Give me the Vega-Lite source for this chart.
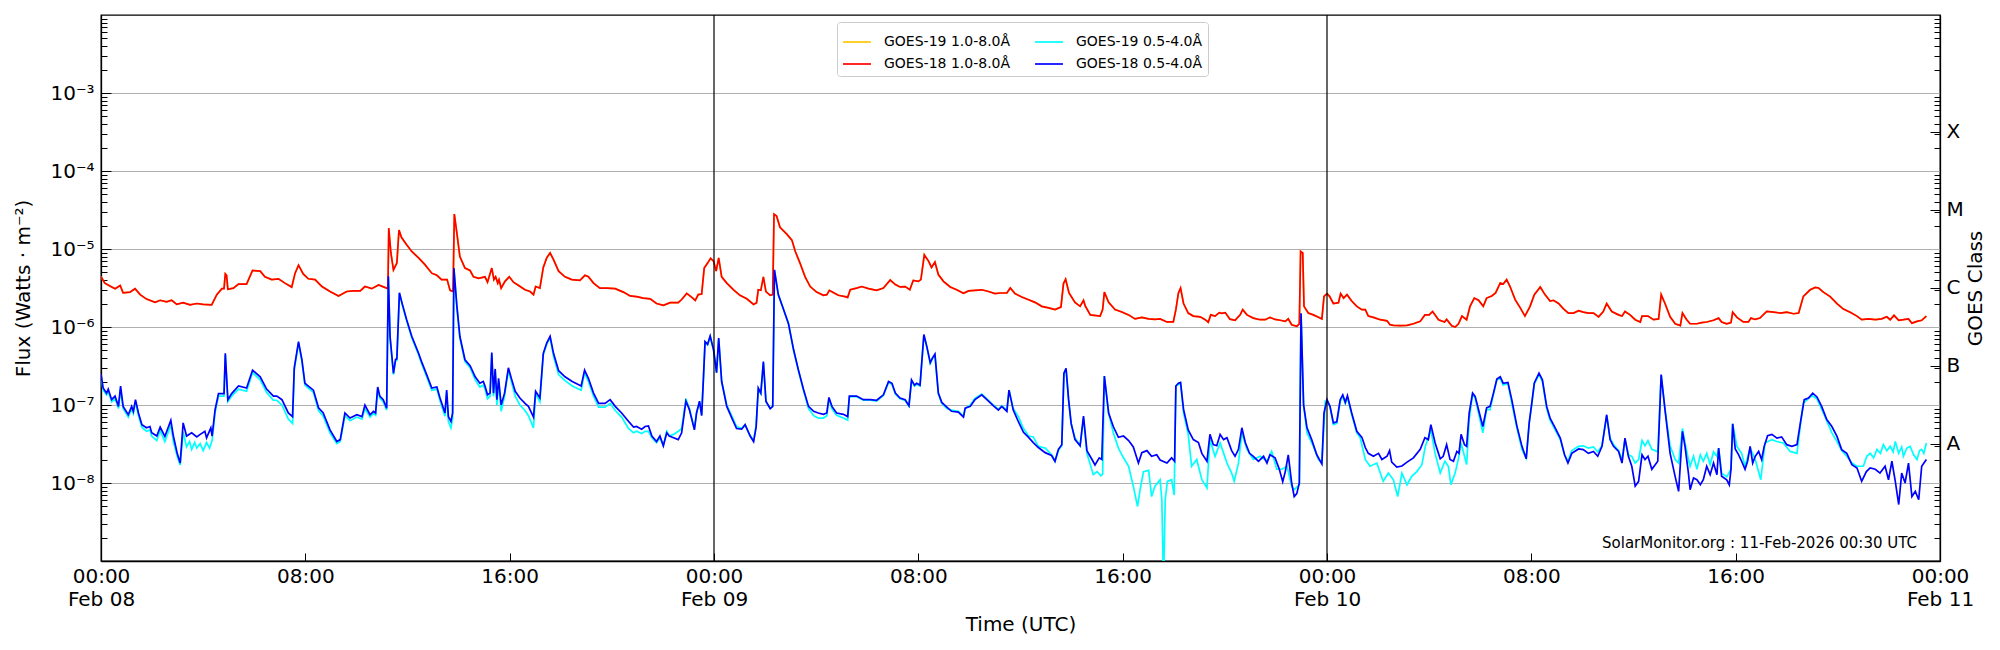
{
"$schema":"https://vega.github.io/schema/vega-lite/v6.json",
"width":1839,"height":546,
"autosize":{"type":"none"},
"padding":{"left":101,"top":15,"right":60,"bottom":89},
"background":"white",
"config":{
"font":"DejaVu Sans",
"view":{"stroke":"black","strokeWidth":1.3},
"axis":{"labelFont":"DejaVu Sans","titleFont":"DejaVu Sans","labelFontSize":20,"titleFontSize":20,"titleFontWeight":"normal","labelColor":"black","titleColor":"black","domainColor":"black","tickColor":"black","domainWidth":1.3,"tickWidth":1},
"line":{"strokeWidth":1.7,"clip":true}
},
"datasets":{
"g18l":[
{"t":"2026-02-08T00:00Z","v":4.4e-6},{"t":"2026-02-08T00:09Z","v":3.65e-6},{"t":"2026-02-08T00:21Z","v":3.35e-6},{"t":"2026-02-08T00:33Z","v":3.1e-6},{"t":"2026-02-08T00:45Z","v":3.4e-6},{"t":"2026-02-08T00:52Z","v":2.75e-6},{"t":"2026-02-08T01:08Z","v":2.8e-6},{"t":"2026-02-08T01:20Z","v":3.1e-6},{"t":"2026-02-08T01:32Z","v":2.6e-6},{"t":"2026-02-08T01:47Z","v":2.28e-6},{"t":"2026-02-08T02:07Z","v":2.07e-6},{"t":"2026-02-08T02:19Z","v":2.2e-6},{"t":"2026-02-08T02:34Z","v":2.1e-6},{"t":"2026-02-08T02:46Z","v":2.2e-6},{"t":"2026-02-08T02:58Z","v":1.95e-6},{"t":"2026-02-08T03:13Z","v":2.05e-6},{"t":"2026-02-08T03:29Z","v":1.92e-6},{"t":"2026-02-08T03:45Z","v":2.0e-6},{"t":"2026-02-08T04:00Z","v":1.95e-6},{"t":"2026-02-08T04:20Z","v":1.92e-6},{"t":"2026-02-08T04:32Z","v":2.6e-6},{"t":"2026-02-08T04:44Z","v":3.1e-6},{"t":"2026-02-08T04:49Z","v":3.1e-6},{"t":"2026-02-08T04:52Z","v":4.8e-6},{"t":"2026-02-08T04:55Z","v":4.6e-6},{"t":"2026-02-08T04:58Z","v":3.05e-6},{"t":"2026-02-08T05:11Z","v":3.15e-6},{"t":"2026-02-08T05:23Z","v":3.55e-6},{"t":"2026-02-08T05:42Z","v":3.55e-6},{"t":"2026-02-08T05:56Z","v":5.3e-6},{"t":"2026-02-08T06:14Z","v":5.2e-6},{"t":"2026-02-08T06:25Z","v":4.4e-6},{"t":"2026-02-08T06:41Z","v":4.05e-6},{"t":"2026-02-08T06:57Z","v":4.15e-6},{"t":"2026-02-08T07:12Z","v":3.65e-6},{"t":"2026-02-08T07:28Z","v":3.25e-6},{"t":"2026-02-08T07:36Z","v":4.9e-6},{"t":"2026-02-08T07:44Z","v":6.2e-6},{"t":"2026-02-08T07:55Z","v":4.8e-6},{"t":"2026-02-08T08:07Z","v":4.15e-6},{"t":"2026-02-08T08:23Z","v":4.05e-6},{"t":"2026-02-08T08:39Z","v":3.3e-6},{"t":"2026-02-08T08:58Z","v":2.85e-6},{"t":"2026-02-08T09:18Z","v":2.5e-6},{"t":"2026-02-08T09:37Z","v":2.85e-6},{"t":"2026-02-08T09:53Z","v":2.9e-6},{"t":"2026-02-08T10:09Z","v":2.9e-6},{"t":"2026-02-08T10:20Z","v":3.3e-6},{"t":"2026-02-08T10:36Z","v":3.1e-6},{"t":"2026-02-08T10:52Z","v":3.45e-6},{"t":"2026-02-08T11:11Z","v":3.15e-6},{"t":"2026-02-08T11:14Z","v":3.1e-6},{"t":"2026-02-08T11:16Z","v":1.85e-5},{"t":"2026-02-08T11:21Z","v":8.9e-6},{"t":"2026-02-08T11:27Z","v":5.4e-6},{"t":"2026-02-08T11:35Z","v":6.6e-6},{"t":"2026-02-08T11:40Z","v":1.75e-5},{"t":"2026-02-08T11:46Z","v":1.4e-5},{"t":"2026-02-08T11:58Z","v":1.13e-5},{"t":"2026-02-08T12:10Z","v":9.3e-6},{"t":"2026-02-08T12:26Z","v":7.7e-6},{"t":"2026-02-08T12:41Z","v":6.3e-6},{"t":"2026-02-08T12:57Z","v":4.9e-6},{"t":"2026-02-08T13:09Z","v":4.6e-6},{"t":"2026-02-08T13:20Z","v":4.05e-6},{"t":"2026-02-08T13:33Z","v":4.05e-6},{"t":"2026-02-08T13:40Z","v":2.95e-6},{"t":"2026-02-08T13:47Z","v":2.85e-6},{"t":"2026-02-08T13:50Z","v":2.8e-5},{"t":"2026-02-08T13:56Z","v":1.6e-5},{"t":"2026-02-08T14:03Z","v":8.0e-6},{"t":"2026-02-08T14:15Z","v":5.7e-6},{"t":"2026-02-08T14:27Z","v":5.3e-6},{"t":"2026-02-08T14:35Z","v":4.4e-6},{"t":"2026-02-08T14:47Z","v":4.2e-6},{"t":"2026-02-08T15:02Z","v":4.4e-6},{"t":"2026-02-08T15:08Z","v":3.75e-6},{"t":"2026-02-08T15:18Z","v":5.7e-6},{"t":"2026-02-08T15:23Z","v":4.05e-6},{"t":"2026-02-08T15:27Z","v":4.4e-6},{"t":"2026-02-08T15:32Z","v":3.65e-6},{"t":"2026-02-08T15:35Z","v":4.05e-6},{"t":"2026-02-08T15:40Z","v":3.15e-6},{"t":"2026-02-08T15:49Z","v":3.85e-6},{"t":"2026-02-08T15:59Z","v":4.4e-6},{"t":"2026-02-08T16:09Z","v":3.75e-6},{"t":"2026-02-08T16:21Z","v":3.4e-6},{"t":"2026-02-08T16:36Z","v":3.0e-6},{"t":"2026-02-08T16:48Z","v":2.85e-6},{"t":"2026-02-08T16:56Z","v":2.6e-6},{"t":"2026-02-08T17:01Z","v":3.3e-6},{"t":"2026-02-08T17:11Z","v":3.15e-6},{"t":"2026-02-08T17:19Z","v":5.8e-6},{"t":"2026-02-08T17:27Z","v":7.7e-6},{"t":"2026-02-08T17:35Z","v":8.9e-6},{"t":"2026-02-08T17:43Z","v":7.3e-6},{"t":"2026-02-08T17:55Z","v":5.2e-6},{"t":"2026-02-08T18:10Z","v":4.4e-6},{"t":"2026-02-08T18:26Z","v":4.05e-6},{"t":"2026-02-08T18:45Z","v":3.95e-6},{"t":"2026-02-08T18:57Z","v":4.6e-6},{"t":"2026-02-08T19:05Z","v":4.4e-6},{"t":"2026-02-08T19:17Z","v":3.65e-6},{"t":"2026-02-08T19:32Z","v":3.15e-6},{"t":"2026-02-08T19:48Z","v":3.15e-6},{"t":"2026-02-08T20:08Z","v":3.1e-6},{"t":"2026-02-08T20:27Z","v":2.8e-6},{"t":"2026-02-08T20:43Z","v":2.5e-6},{"t":"2026-02-08T20:58Z","v":2.45e-6},{"t":"2026-02-08T21:14Z","v":2.35e-6},{"t":"2026-02-08T21:30Z","v":2.3e-6},{"t":"2026-02-08T21:45Z","v":2.0e-6},{"t":"2026-02-08T22:01Z","v":1.9e-6},{"t":"2026-02-08T22:17Z","v":2.05e-6},{"t":"2026-02-08T22:36Z","v":2.05e-6},{"t":"2026-02-08T22:44Z","v":2.25e-6},{"t":"2026-02-08T22:56Z","v":2.7e-6},{"t":"2026-02-08T23:08Z","v":2.4e-6},{"t":"2026-02-08T23:16Z","v":2.2e-6},{"t":"2026-02-08T23:23Z","v":2.6e-6},{"t":"2026-02-08T23:31Z","v":2.65e-6},{"t":"2026-02-08T23:37Z","v":5.7e-6},{"t":"2026-02-08T23:45Z","v":6.6e-6},{"t":"2026-02-08T23:52Z","v":7.6e-6},{"t":"2026-02-08T23:59Z","v":7.0e-6},
{"t":"2026-02-09T00:05Z","v":5.2e-6},{"t":"2026-02-09T00:11Z","v":7.7e-6},{"t":"2026-02-09T00:18Z","v":4.4e-6},{"t":"2026-02-09T00:30Z","v":3.65e-6},{"t":"2026-02-09T00:46Z","v":3.0e-6},{"t":"2026-02-09T01:01Z","v":2.55e-6},{"t":"2026-02-09T01:17Z","v":2.3e-6},{"t":"2026-02-09T01:33Z","v":1.95e-6},{"t":"2026-02-09T01:40Z","v":2.05e-6},{"t":"2026-02-09T01:44Z","v":3.0e-6},{"t":"2026-02-09T01:50Z","v":2.95e-6},{"t":"2026-02-09T01:56Z","v":4.4e-6},{"t":"2026-02-09T02:02Z","v":2.85e-6},{"t":"2026-02-09T02:12Z","v":2.55e-6},{"t":"2026-02-09T02:18Z","v":2.6e-6},{"t":"2026-02-09T02:21Z","v":2.8e-5},{"t":"2026-02-09T02:27Z","v":2.65e-5},{"t":"2026-02-09T02:35Z","v":1.9e-5},{"t":"2026-02-09T02:51Z","v":1.55e-5},{"t":"2026-02-09T03:03Z","v":1.3e-5},{"t":"2026-02-09T03:11Z","v":9.3e-6},{"t":"2026-02-09T03:22Z","v":6.6e-6},{"t":"2026-02-09T03:34Z","v":4.4e-6},{"t":"2026-02-09T03:46Z","v":3.3e-6},{"t":"2026-02-09T04:01Z","v":2.8e-6},{"t":"2026-02-09T04:17Z","v":2.55e-6},{"t":"2026-02-09T04:25Z","v":2.6e-6},{"t":"2026-02-09T04:31Z","v":2.95e-6},{"t":"2026-02-09T04:41Z","v":2.75e-6},{"t":"2026-02-09T04:52Z","v":2.55e-6},{"t":"2026-02-09T05:08Z","v":2.45e-6},{"t":"2026-02-09T05:14Z","v":2.4e-6},{"t":"2026-02-09T05:20Z","v":3.0e-6},{"t":"2026-02-09T05:35Z","v":3.15e-6},{"t":"2026-02-09T05:47Z","v":3.3e-6},{"t":"2026-02-09T06:03Z","v":3.1e-6},{"t":"2026-02-09T06:22Z","v":2.95e-6},{"t":"2026-02-09T06:38Z","v":3.15e-6},{"t":"2026-02-09T06:54Z","v":4.0e-6},{"t":"2026-02-09T07:06Z","v":3.5e-6},{"t":"2026-02-09T07:17Z","v":3.26e-6},{"t":"2026-02-09T07:29Z","v":3.3e-6},{"t":"2026-02-09T07:40Z","v":3.0e-6},{"t":"2026-02-09T07:48Z","v":3.95e-6},{"t":"2026-02-09T08:00Z","v":3.85e-6},{"t":"2026-02-09T08:06Z","v":4.05e-6},{"t":"2026-02-09T08:14Z","v":8.4e-6},{"t":"2026-02-09T08:24Z","v":7.0e-6},{"t":"2026-02-09T08:31Z","v":5.8e-6},{"t":"2026-02-09T08:39Z","v":6.8e-6},{"t":"2026-02-09T08:47Z","v":4.7e-6},{"t":"2026-02-09T08:59Z","v":3.85e-6},{"t":"2026-02-09T09:15Z","v":3.26e-6},{"t":"2026-02-09T09:30Z","v":3.0e-6},{"t":"2026-02-09T09:46Z","v":2.7e-6},{"t":"2026-02-09T09:58Z","v":2.9e-6},{"t":"2026-02-09T10:13Z","v":2.95e-6},{"t":"2026-02-09T10:29Z","v":3.0e-6},{"t":"2026-02-09T10:45Z","v":2.85e-6},{"t":"2026-02-09T11:00Z","v":2.68e-6},{"t":"2026-02-09T11:12Z","v":2.73e-6},{"t":"2026-02-09T11:28Z","v":2.73e-6},{"t":"2026-02-09T11:36Z","v":3.16e-6},{"t":"2026-02-09T11:47Z","v":2.68e-6},{"t":"2026-02-09T12:03Z","v":2.43e-6},{"t":"2026-02-09T12:19Z","v":2.24e-6},{"t":"2026-02-09T12:34Z","v":2.07e-6},{"t":"2026-02-09T12:50Z","v":1.84e-6},{"t":"2026-02-09T13:06Z","v":1.76e-6},{"t":"2026-02-09T13:21Z","v":1.67e-6},{"t":"2026-02-09T13:35Z","v":1.8e-6},{"t":"2026-02-09T13:41Z","v":3.6e-6},{"t":"2026-02-09T13:46Z","v":4.1e-6},{"t":"2026-02-09T13:54Z","v":2.73e-6},{"t":"2026-02-09T14:08Z","v":2.07e-6},{"t":"2026-02-09T14:20Z","v":1.84e-6},{"t":"2026-02-09T14:28Z","v":2.2e-6},{"t":"2026-02-09T14:32Z","v":1.87e-6},{"t":"2026-02-09T14:44Z","v":1.43e-6},{"t":"2026-02-09T15:07Z","v":1.38e-6},{"t":"2026-02-09T15:13Z","v":1.67e-6},{"t":"2026-02-09T15:17Z","v":2.8e-6},{"t":"2026-02-09T15:27Z","v":2.07e-6},{"t":"2026-02-09T15:42Z","v":1.67e-6},{"t":"2026-02-09T15:58Z","v":1.56e-6},{"t":"2026-02-09T16:14Z","v":1.43e-6},{"t":"2026-02-09T16:29Z","v":1.27e-6},{"t":"2026-02-09T16:45Z","v":1.33e-6},{"t":"2026-02-09T17:01Z","v":1.27e-6},{"t":"2026-02-09T17:16Z","v":1.25e-6},{"t":"2026-02-09T17:28Z","v":1.27e-6},{"t":"2026-02-09T17:44Z","v":1.16e-6},{"t":"2026-02-09T17:59Z","v":1.16e-6},{"t":"2026-02-09T18:05Z","v":1.67e-6},{"t":"2026-02-09T18:11Z","v":2.73e-6},{"t":"2026-02-09T18:16Z","v":3.16e-6},{"t":"2026-02-09T18:23Z","v":2.0e-6},{"t":"2026-02-09T18:34Z","v":1.51e-6},{"t":"2026-02-09T18:46Z","v":1.38e-6},{"t":"2026-02-09T19:02Z","v":1.35e-6},{"t":"2026-02-09T19:14Z","v":1.24e-6},{"t":"2026-02-09T19:21Z","v":1.15e-6},{"t":"2026-02-09T19:27Z","v":1.43e-6},{"t":"2026-02-09T19:37Z","v":1.38e-6},{"t":"2026-02-09T19:47Z","v":1.53e-6},{"t":"2026-02-09T19:53Z","v":1.5e-6},{"t":"2026-02-09T20:01Z","v":1.53e-6},{"t":"2026-02-09T20:12Z","v":1.26e-6},{"t":"2026-02-09T20:24Z","v":1.22e-6},{"t":"2026-02-09T20:36Z","v":1.43e-6},{"t":"2026-02-09T20:42Z","v":1.67e-6},{"t":"2026-02-09T20:52Z","v":1.43e-6},{"t":"2026-02-09T21:07Z","v":1.3e-6},{"t":"2026-02-09T21:23Z","v":1.24e-6},{"t":"2026-02-09T21:35Z","v":1.24e-6},{"t":"2026-02-09T21:46Z","v":1.33e-6},{"t":"2026-02-09T21:58Z","v":1.25e-6},{"t":"2026-02-09T22:10Z","v":1.22e-6},{"t":"2026-02-09T22:22Z","v":1.18e-6},{"t":"2026-02-09T22:29Z","v":1.27e-6},{"t":"2026-02-09T22:37Z","v":1.07e-6},{"t":"2026-02-09T22:49Z","v":1.02e-6},{"t":"2026-02-09T22:55Z","v":1.1e-6},{"t":"2026-02-09T22:58Z","v":9.3e-6},{"t":"2026-02-09T23:03Z","v":8.9e-6},{"t":"2026-02-09T23:06Z","v":1.84e-6},{"t":"2026-02-09T23:16Z","v":1.51e-6},{"t":"2026-02-09T23:28Z","v":1.43e-6},{"t":"2026-02-09T23:40Z","v":1.33e-6},{"t":"2026-02-09T23:48Z","v":1.27e-6},{"t":"2026-02-09T23:53Z","v":2.47e-6},
{"t":"2026-02-10T00:00Z","v":2.68e-6},{"t":"2026-02-10T00:06Z","v":2.47e-6},{"t":"2026-02-10T00:15Z","v":2.0e-6},{"t":"2026-02-10T00:27Z","v":2.05e-6},{"t":"2026-02-10T00:32Z","v":2.68e-6},{"t":"2026-02-10T00:39Z","v":2.35e-6},{"t":"2026-02-10T00:47Z","v":2.6e-6},{"t":"2026-02-10T00:58Z","v":2.15e-6},{"t":"2026-02-10T01:10Z","v":1.84e-6},{"t":"2026-02-10T01:22Z","v":1.67e-6},{"t":"2026-02-10T01:30Z","v":1.67e-6},{"t":"2026-02-10T01:37Z","v":1.38e-6},{"t":"2026-02-10T01:49Z","v":1.33e-6},{"t":"2026-02-10T02:05Z","v":1.24e-6},{"t":"2026-02-10T02:21Z","v":1.2e-6},{"t":"2026-02-10T02:28Z","v":1.07e-6},{"t":"2026-02-10T02:36Z","v":1.05e-6},{"t":"2026-02-10T02:52Z","v":1.04e-6},{"t":"2026-02-10T03:08Z","v":1.05e-6},{"t":"2026-02-10T03:23Z","v":1.1e-6},{"t":"2026-02-10T03:39Z","v":1.18e-6},{"t":"2026-02-10T03:50Z","v":1.43e-6},{"t":"2026-02-10T04:00Z","v":1.43e-6},{"t":"2026-02-10T04:08Z","v":1.58e-6},{"t":"2026-02-10T04:22Z","v":1.24e-6},{"t":"2026-02-10T04:36Z","v":1.16e-6},{"t":"2026-02-10T04:41Z","v":1.25e-6},{"t":"2026-02-10T04:53Z","v":1.04e-6},{"t":"2026-02-10T05:01Z","v":1.0e-6},{"t":"2026-02-10T05:09Z","v":1.1e-6},{"t":"2026-02-10T05:17Z","v":1.38e-6},{"t":"2026-02-10T05:28Z","v":1.24e-6},{"t":"2026-02-10T05:36Z","v":1.84e-6},{"t":"2026-02-10T05:46Z","v":2.35e-6},{"t":"2026-02-10T05:56Z","v":2.2e-6},{"t":"2026-02-10T06:07Z","v":1.84e-6},{"t":"2026-02-10T06:15Z","v":2.35e-6},{"t":"2026-02-10T06:27Z","v":2.5e-6},{"t":"2026-02-10T06:36Z","v":2.73e-6},{"t":"2026-02-10T06:47Z","v":3.67e-6},{"t":"2026-02-10T06:54Z","v":3.55e-6},{"t":"2026-02-10T07:02Z","v":4.05e-6},{"t":"2026-02-10T07:10Z","v":3.3e-6},{"t":"2026-02-10T07:22Z","v":2.24e-6},{"t":"2026-02-10T07:34Z","v":1.76e-6},{"t":"2026-02-10T07:45Z","v":1.38e-6},{"t":"2026-02-10T07:57Z","v":1.84e-6},{"t":"2026-02-10T08:07Z","v":2.6e-6},{"t":"2026-02-10T08:21Z","v":3.26e-6},{"t":"2026-02-10T08:32Z","v":2.6e-6},{"t":"2026-02-10T08:44Z","v":2.15e-6},{"t":"2026-02-10T08:52Z","v":2.2e-6},{"t":"2026-02-10T09:04Z","v":2.0e-6},{"t":"2026-02-10T09:15Z","v":1.72e-6},{"t":"2026-02-10T09:27Z","v":1.51e-6},{"t":"2026-02-10T09:39Z","v":1.51e-6},{"t":"2026-02-10T09:51Z","v":1.62e-6},{"t":"2026-02-10T10:02Z","v":1.55e-6},{"t":"2026-02-10T10:14Z","v":1.51e-6},{"t":"2026-02-10T10:26Z","v":1.51e-6},{"t":"2026-02-10T10:38Z","v":1.35e-6},{"t":"2026-02-10T10:49Z","v":1.58e-6},{"t":"2026-02-10T10:57Z","v":2.0e-6},{"t":"2026-02-10T11:09Z","v":1.58e-6},{"t":"2026-02-10T11:25Z","v":1.43e-6},{"t":"2026-02-10T11:33Z","v":1.38e-6},{"t":"2026-02-10T11:40Z","v":1.58e-6},{"t":"2026-02-10T11:52Z","v":1.43e-6},{"t":"2026-02-10T12:04Z","v":1.24e-6},{"t":"2026-02-10T12:16Z","v":1.16e-6},{"t":"2026-02-10T12:20Z","v":1.38e-6},{"t":"2026-02-10T12:34Z","v":1.38e-6},{"t":"2026-02-10T12:47Z","v":1.24e-6},{"t":"2026-02-10T12:59Z","v":1.27e-6},{"t":"2026-02-10T13:05Z","v":2.6e-6},{"t":"2026-02-10T13:14Z","v":2.0e-6},{"t":"2026-02-10T13:26Z","v":1.35e-6},{"t":"2026-02-10T13:38Z","v":1.1e-6},{"t":"2026-02-10T13:50Z","v":1.04e-6},{"t":"2026-02-10T13:55Z","v":1.51e-6},{"t":"2026-02-10T14:05Z","v":1.24e-6},{"t":"2026-02-10T14:13Z","v":1.1e-6},{"t":"2026-02-10T14:29Z","v":1.1e-6},{"t":"2026-02-10T14:40Z","v":1.14e-6},{"t":"2026-02-10T14:52Z","v":1.16e-6},{"t":"2026-02-10T15:08Z","v":1.22e-6},{"t":"2026-02-10T15:20Z","v":1.3e-6},{"t":"2026-02-10T15:27Z","v":1.16e-6},{"t":"2026-02-10T15:39Z","v":1.1e-6},{"t":"2026-02-10T15:49Z","v":1.14e-6},{"t":"2026-02-10T15:53Z","v":1.55e-6},{"t":"2026-02-10T16:03Z","v":1.33e-6},{"t":"2026-02-10T16:18Z","v":1.16e-6},{"t":"2026-02-10T16:30Z","v":1.16e-6},{"t":"2026-02-10T16:36Z","v":1.3e-6},{"t":"2026-02-10T16:46Z","v":1.25e-6},{"t":"2026-02-10T16:57Z","v":1.3e-6},{"t":"2026-02-10T17:13Z","v":1.58e-6},{"t":"2026-02-10T17:29Z","v":1.55e-6},{"t":"2026-02-10T17:45Z","v":1.51e-6},{"t":"2026-02-10T18:00Z","v":1.55e-6},{"t":"2026-02-10T18:16Z","v":1.48e-6},{"t":"2026-02-10T18:28Z","v":1.51e-6},{"t":"2026-02-10T18:39Z","v":2.47e-6},{"t":"2026-02-10T18:55Z","v":3.0e-6},{"t":"2026-02-10T19:07Z","v":3.22e-6},{"t":"2026-02-10T19:15Z","v":3.16e-6},{"t":"2026-02-10T19:26Z","v":2.8e-6},{"t":"2026-02-10T19:42Z","v":2.45e-6},{"t":"2026-02-10T19:58Z","v":2.0e-6},{"t":"2026-02-10T20:13Z","v":1.7e-6},{"t":"2026-02-10T20:29Z","v":1.55e-6},{"t":"2026-02-10T20:45Z","v":1.38e-6},{"t":"2026-02-10T20:56Z","v":1.24e-6},{"t":"2026-02-10T21:12Z","v":1.27e-6},{"t":"2026-02-10T21:28Z","v":1.24e-6},{"t":"2026-02-10T21:43Z","v":1.27e-6},{"t":"2026-02-10T21:55Z","v":1.35e-6},{"t":"2026-02-10T22:03Z","v":1.24e-6},{"t":"2026-02-10T22:12Z","v":1.41e-6},{"t":"2026-02-10T22:23Z","v":1.22e-6},{"t":"2026-02-10T22:34Z","v":1.24e-6},{"t":"2026-02-10T22:46Z","v":1.27e-6},{"t":"2026-02-10T22:54Z","v":1.12e-6},{"t":"2026-02-10T23:06Z","v":1.18e-6},{"t":"2026-02-10T23:17Z","v":1.22e-6},{"t":"2026-02-10T23:28Z","v":1.38e-6}
],
"g18s":[
{"t":"2026-02-08T00:00Z","v":2.5e-7},{"t":"2026-02-08T00:05Z","v":1.65e-7},{"t":"2026-02-08T00:13Z","v":1.42e-7},{"t":"2026-02-08T00:17Z","v":1.6e-7},{"t":"2026-02-08T00:25Z","v":1.17e-7},{"t":"2026-02-08T00:33Z","v":1.3e-7},{"t":"2026-02-08T00:41Z","v":9.6e-8},{"t":"2026-02-08T00:46Z","v":1.75e-7},{"t":"2026-02-08T00:52Z","v":9.6e-8},{"t":"2026-02-08T01:04Z","v":7.5e-8},{"t":"2026-02-08T01:12Z","v":9.6e-8},{"t":"2026-02-08T01:16Z","v":8.3e-8},{"t":"2026-02-08T01:21Z","v":1.17e-7},{"t":"2026-02-08T01:28Z","v":7.9e-8},{"t":"2026-02-08T01:36Z","v":5.6e-8},{"t":"2026-02-08T01:47Z","v":5.1e-8},{"t":"2026-02-08T01:55Z","v":5.3e-8},{"t":"2026-02-08T01:59Z","v":4.4e-8},{"t":"2026-02-08T02:11Z","v":4.0e-8},{"t":"2026-02-08T02:19Z","v":5.2e-8},{"t":"2026-02-08T02:30Z","v":3.95e-8},{"t":"2026-02-08T02:44Z","v":6.35e-8},{"t":"2026-02-08T02:50Z","v":4.0e-8},{"t":"2026-02-08T02:59Z","v":2.4e-8},{"t":"2026-02-08T03:06Z","v":1.8e-8},{"t":"2026-02-08T03:13Z","v":5.9e-8},{"t":"2026-02-08T03:21Z","v":4.0e-8},{"t":"2026-02-08T03:33Z","v":4.4e-8},{"t":"2026-02-08T03:45Z","v":3.9e-8},{"t":"2026-02-08T03:53Z","v":4.2e-8},{"t":"2026-02-08T04:04Z","v":4.6e-8},{"t":"2026-02-08T04:08Z","v":3.8e-8},{"t":"2026-02-08T04:18Z","v":5.1e-8},{"t":"2026-02-08T04:21Z","v":4.0e-8},{"t":"2026-02-08T04:28Z","v":8.7e-8},{"t":"2026-02-08T04:36Z","v":1.4e-7},{"t":"2026-02-08T04:49Z","v":1.4e-7},{"t":"2026-02-08T04:52Z","v":4.6e-7},{"t":"2026-02-08T04:58Z","v":1.17e-7},{"t":"2026-02-08T05:07Z","v":1.4e-7},{"t":"2026-02-08T05:23Z","v":1.75e-7},{"t":"2026-02-08T05:42Z","v":1.65e-7},{"t":"2026-02-08T05:56Z","v":2.8e-7},{"t":"2026-02-08T06:14Z","v":2.3e-7},{"t":"2026-02-08T06:29Z","v":1.6e-7},{"t":"2026-02-08T06:45Z","v":1.3e-7},{"t":"2026-02-08T06:53Z","v":1.3e-7},{"t":"2026-02-08T07:05Z","v":1.17e-7},{"t":"2026-02-08T07:20Z","v":7.9e-8},{"t":"2026-02-08T07:30Z","v":7.1e-8},{"t":"2026-02-08T07:34Z","v":3.0e-7},{"t":"2026-02-08T07:44Z","v":6.5e-7},{"t":"2026-02-08T07:52Z","v":3.8e-7},{"t":"2026-02-08T07:59Z","v":1.9e-7},{"t":"2026-02-08T08:07Z","v":1.75e-7},{"t":"2026-02-08T08:19Z","v":1.55e-7},{"t":"2026-02-08T08:31Z","v":9.2e-8},{"t":"2026-02-08T08:42Z","v":7.9e-8},{"t":"2026-02-08T08:58Z","v":4.8e-8},{"t":"2026-02-08T09:14Z","v":3.4e-8},{"t":"2026-02-08T09:22Z","v":3.6e-8},{"t":"2026-02-08T09:33Z","v":7.9e-8},{"t":"2026-02-08T09:45Z","v":6.8e-8},{"t":"2026-02-08T10:01Z","v":7.5e-8},{"t":"2026-02-08T10:13Z","v":7.1e-8},{"t":"2026-02-08T10:20Z","v":1.0e-7},{"t":"2026-02-08T10:32Z","v":7.5e-8},{"t":"2026-02-08T10:40Z","v":8.3e-8},{"t":"2026-02-08T10:45Z","v":7.9e-8},{"t":"2026-02-08T10:50Z","v":1.7e-7},{"t":"2026-02-08T10:55Z","v":1.3e-7},{"t":"2026-02-08T11:03Z","v":1.17e-7},{"t":"2026-02-08T11:11Z","v":9.1e-8},{"t":"2026-02-08T11:15Z","v":4.47e-6},{"t":"2026-02-08T11:19Z","v":7.6e-7},{"t":"2026-02-08T11:27Z","v":2.55e-7},{"t":"2026-02-08T11:32Z","v":3.85e-7},{"t":"2026-02-08T11:35Z","v":3.9e-7},{"t":"2026-02-08T11:41Z","v":2.75e-6},{"t":"2026-02-08T11:48Z","v":1.95e-6},{"t":"2026-02-08T11:58Z","v":1.24e-6},{"t":"2026-02-08T12:10Z","v":7.6e-7},{"t":"2026-02-08T12:26Z","v":4.6e-7},{"t":"2026-02-08T12:33Z","v":3.6e-7},{"t":"2026-02-08T12:45Z","v":2.45e-7},{"t":"2026-02-08T12:57Z","v":1.65e-7},{"t":"2026-02-08T13:09Z","v":1.7e-7},{"t":"2026-02-08T13:16Z","v":1.25e-7},{"t":"2026-02-08T13:28Z","v":7.9e-8},{"t":"2026-02-08T13:32Z","v":1.55e-7},{"t":"2026-02-08T13:36Z","v":7.1e-8},{"t":"2026-02-08T13:42Z","v":6.15e-8},{"t":"2026-02-08T13:46Z","v":7.9e-8},{"t":"2026-02-08T13:49Z","v":5.7e-6},{"t":"2026-02-08T13:56Z","v":1.85e-6},{"t":"2026-02-08T14:03Z","v":7.6e-7},{"t":"2026-02-08T14:15Z","v":3.8e-7},{"t":"2026-02-08T14:27Z","v":3.2e-7},{"t":"2026-02-08T14:39Z","v":2.3e-7},{"t":"2026-02-08T14:50Z","v":1.9e-7},{"t":"2026-02-08T14:58Z","v":2.0e-7},{"t":"2026-02-08T15:02Z","v":1.75e-7},{"t":"2026-02-08T15:08Z","v":1.35e-7},{"t":"2026-02-08T15:14Z","v":1.42e-7},{"t":"2026-02-08T15:18Z","v":4.7e-7},{"t":"2026-02-08T15:22Z","v":1.42e-7},{"t":"2026-02-08T15:26Z","v":2.9e-7},{"t":"2026-02-08T15:30Z","v":1.17e-7},{"t":"2026-02-08T15:34Z","v":2.2e-7},{"t":"2026-02-08T15:40Z","v":1.0e-7},{"t":"2026-02-08T15:48Z","v":1.42e-7},{"t":"2026-02-08T15:57Z","v":3.0e-7},{"t":"2026-02-08T16:05Z","v":2.1e-7},{"t":"2026-02-08T16:13Z","v":1.5e-7},{"t":"2026-02-08T16:24Z","v":1.23e-7},{"t":"2026-02-08T16:36Z","v":1.05e-7},{"t":"2026-02-08T16:44Z","v":9.6e-8},{"t":"2026-02-08T16:56Z","v":7.0e-8},{"t":"2026-02-08T17:01Z","v":1.5e-7},{"t":"2026-02-08T17:11Z","v":1.23e-7},{"t":"2026-02-08T17:19Z","v":4.6e-7},{"t":"2026-02-08T17:27Z","v":6.2e-7},{"t":"2026-02-08T17:35Z","v":7.6e-7},{"t":"2026-02-08T17:43Z","v":4.6e-7},{"t":"2026-02-08T17:55Z","v":2.75e-7},{"t":"2026-02-08T18:10Z","v":2.3e-7},{"t":"2026-02-08T18:27Z","v":2.0e-7},{"t":"2026-02-08T18:48Z","v":1.75e-7},{"t":"2026-02-08T18:56Z","v":2.8e-7},{"t":"2026-02-08T19:05Z","v":2.2e-7},{"t":"2026-02-08T19:17Z","v":1.42e-7},{"t":"2026-02-08T19:29Z","v":1.05e-7},{"t":"2026-02-08T19:44Z","v":1.05e-7},{"t":"2026-02-08T19:56Z","v":1.17e-7},{"t":"2026-02-08T20:08Z","v":9.6e-8},{"t":"2026-02-08T20:23Z","v":7.9e-8},{"t":"2026-02-08T20:39Z","v":6.2e-8},{"t":"2026-02-08T20:51Z","v":5.2e-8},{"t":"2026-02-08T20:58Z","v":5.3e-8},{"t":"2026-02-08T21:10Z","v":4.9e-8},{"t":"2026-02-08T21:18Z","v":5.3e-8},{"t":"2026-02-08T21:26Z","v":5.4e-8},{"t":"2026-02-08T21:34Z","v":4.0e-8},{"t":"2026-02-08T21:45Z","v":3.4e-8},{"t":"2026-02-08T21:53Z","v":4.0e-8},{"t":"2026-02-08T22:01Z","v":3.0e-8},{"t":"2026-02-08T22:09Z","v":4.4e-8},{"t":"2026-02-08T22:15Z","v":4.0e-8},{"t":"2026-02-08T22:25Z","v":3.8e-8},{"t":"2026-02-08T22:36Z","v":3.6e-8},{"t":"2026-02-08T22:44Z","v":4.4e-8},{"t":"2026-02-08T22:54Z","v":1.12e-7},{"t":"2026-02-08T23:02Z","v":8.8e-8},{"t":"2026-02-08T23:14Z","v":4.8e-8},{"t":"2026-02-08T23:19Z","v":7.9e-8},{"t":"2026-02-08T23:26Z","v":1.12e-7},{"t":"2026-02-08T23:31Z","v":7.3e-8},{"t":"2026-02-08T23:35Z","v":2.1e-7},{"t":"2026-02-08T23:39Z","v":6.5e-7},{"t":"2026-02-08T23:45Z","v":6.0e-7},{"t":"2026-02-08T23:51Z","v":7.7e-7},{"t":"2026-02-08T23:59Z","v":5.1e-7},
{"t":"2026-02-09T00:06Z","v":2.6e-7},{"t":"2026-02-09T00:11Z","v":7.2e-7},{"t":"2026-02-09T00:18Z","v":2.0e-7},{"t":"2026-02-09T00:30Z","v":9.6e-8},{"t":"2026-02-09T00:42Z","v":6.8e-8},{"t":"2026-02-09T00:53Z","v":5.0e-8},{"t":"2026-02-09T01:05Z","v":4.9e-8},{"t":"2026-02-09T01:13Z","v":5.6e-8},{"t":"2026-02-09T01:25Z","v":4.0e-8},{"t":"2026-02-09T01:33Z","v":3.4e-8},{"t":"2026-02-09T01:39Z","v":5.2e-8},{"t":"2026-02-09T01:44Z","v":1.65e-7},{"t":"2026-02-09T01:50Z","v":1.42e-7},{"t":"2026-02-09T01:56Z","v":3.6e-7},{"t":"2026-02-09T02:02Z","v":1.12e-7},{"t":"2026-02-09T02:12Z","v":9.0e-8},{"t":"2026-02-09T02:18Z","v":9.6e-8},{"t":"2026-02-09T02:22Z","v":5.4e-6},{"t":"2026-02-09T02:31Z","v":2.6e-6},{"t":"2026-02-09T02:43Z","v":1.7e-6},{"t":"2026-02-09T02:55Z","v":1.1e-6},{"t":"2026-02-09T03:07Z","v":5.1e-7},{"t":"2026-02-09T03:18Z","v":2.85e-7},{"t":"2026-02-09T03:30Z","v":1.6e-7},{"t":"2026-02-09T03:42Z","v":9.6e-8},{"t":"2026-02-09T03:54Z","v":8.3e-8},{"t":"2026-02-09T04:05Z","v":7.9e-8},{"t":"2026-02-09T04:17Z","v":7.6e-8},{"t":"2026-02-09T04:25Z","v":7.9e-8},{"t":"2026-02-09T04:30Z","v":1.25e-7},{"t":"2026-02-09T04:37Z","v":9.6e-8},{"t":"2026-02-09T04:48Z","v":7.9e-8},{"t":"2026-02-09T05:04Z","v":7.6e-8},{"t":"2026-02-09T05:14Z","v":7.1e-8},{"t":"2026-02-09T05:18Z","v":1.3e-7},{"t":"2026-02-09T05:35Z","v":1.3e-7},{"t":"2026-02-09T05:51Z","v":1.17e-7},{"t":"2026-02-09T06:07Z","v":1.17e-7},{"t":"2026-02-09T06:22Z","v":1.15e-7},{"t":"2026-02-09T06:38Z","v":1.35e-7},{"t":"2026-02-09T06:50Z","v":2.0e-7},{"t":"2026-02-09T06:58Z","v":1.9e-7},{"t":"2026-02-09T07:06Z","v":1.42e-7},{"t":"2026-02-09T07:17Z","v":1.23e-7},{"t":"2026-02-09T07:29Z","v":1.17e-7},{"t":"2026-02-09T07:38Z","v":9.8e-8},{"t":"2026-02-09T07:44Z","v":2.1e-7},{"t":"2026-02-09T07:51Z","v":1.8e-7},{"t":"2026-02-09T07:56Z","v":1.9e-7},{"t":"2026-02-09T08:04Z","v":1.8e-7},{"t":"2026-02-09T08:13Z","v":8.0e-7},{"t":"2026-02-09T08:20Z","v":5.6e-7},{"t":"2026-02-09T08:28Z","v":3.5e-7},{"t":"2026-02-09T08:33Z","v":4.0e-7},{"t":"2026-02-09T08:39Z","v":4.5e-7},{"t":"2026-02-09T08:47Z","v":1.42e-7},{"t":"2026-02-09T08:55Z","v":1.08e-7},{"t":"2026-02-09T09:07Z","v":9.4e-8},{"t":"2026-02-09T09:18Z","v":8.3e-8},{"t":"2026-02-09T09:34Z","v":8.1e-8},{"t":"2026-02-09T09:46Z","v":7.0e-8},{"t":"2026-02-09T09:50Z","v":9.1e-8},{"t":"2026-02-09T10:02Z","v":9.6e-8},{"t":"2026-02-09T10:13Z","v":1.17e-7},{"t":"2026-02-09T10:29Z","v":1.35e-7},{"t":"2026-02-09T10:41Z","v":1.17e-7},{"t":"2026-02-09T10:56Z","v":9.8e-8},{"t":"2026-02-09T11:08Z","v":8.6e-8},{"t":"2026-02-09T11:16Z","v":9.6e-8},{"t":"2026-02-09T11:28Z","v":8.3e-8},{"t":"2026-02-09T11:33Z","v":1.55e-7},{"t":"2026-02-09T11:43Z","v":8.6e-8},{"t":"2026-02-09T11:55Z","v":6.1e-8},{"t":"2026-02-09T12:07Z","v":4.47e-8},{"t":"2026-02-09T12:19Z","v":3.85e-8},{"t":"2026-02-09T12:30Z","v":3.3e-8},{"t":"2026-02-09T12:42Z","v":2.85e-8},{"t":"2026-02-09T12:58Z","v":2.45e-8},{"t":"2026-02-09T13:13Z","v":2.25e-8},{"t":"2026-02-09T13:21Z","v":1.9e-8},{"t":"2026-02-09T13:29Z","v":2.7e-8},{"t":"2026-02-09T13:37Z","v":3.1e-8},{"t":"2026-02-09T13:42Z","v":2.56e-7},{"t":"2026-02-09T13:47Z","v":2.96e-7},{"t":"2026-02-09T13:53Z","v":1.17e-7},{"t":"2026-02-09T13:59Z","v":5.8e-8},{"t":"2026-02-09T14:08Z","v":3.6e-8},{"t":"2026-02-09T14:20Z","v":3.0e-8},{"t":"2026-02-09T14:28Z","v":7.2e-8},{"t":"2026-02-09T14:36Z","v":2.6e-8},{"t":"2026-02-09T14:48Z","v":2.0e-8},{"t":"2026-02-09T14:55Z","v":1.7e-8},{"t":"2026-02-09T15:05Z","v":2.1e-8},{"t":"2026-02-09T15:11Z","v":2.0e-8},{"t":"2026-02-09T15:17Z","v":2.35e-7},{"t":"2026-02-09T15:27Z","v":7.9e-8},{"t":"2026-02-09T15:38Z","v":5.3e-8},{"t":"2026-02-09T15:50Z","v":3.85e-8},{"t":"2026-02-09T16:02Z","v":4.0e-8},{"t":"2026-02-09T16:14Z","v":3.5e-8},{"t":"2026-02-09T16:25Z","v":2.9e-8},{"t":"2026-02-09T16:37Z","v":1.8e-8},{"t":"2026-02-09T16:45Z","v":2.45e-8},{"t":"2026-02-09T16:57Z","v":2.6e-8},{"t":"2026-02-09T17:08Z","v":2.2e-8},{"t":"2026-02-09T17:20Z","v":2.3e-8},{"t":"2026-02-09T17:28Z","v":1.97e-8},{"t":"2026-02-09T17:44Z","v":1.8e-8},{"t":"2026-02-09T17:55Z","v":2.1e-8},{"t":"2026-02-09T18:02Z","v":1.9e-8},{"t":"2026-02-09T18:05Z","v":1.75e-7},{"t":"2026-02-09T18:11Z","v":1.9e-7},{"t":"2026-02-09T18:16Z","v":1.95e-7},{"t":"2026-02-09T18:23Z","v":8.8e-8},{"t":"2026-02-09T18:34Z","v":4.8e-8},{"t":"2026-02-09T18:46Z","v":3.6e-8},{"t":"2026-02-09T18:58Z","v":3.3e-8},{"t":"2026-02-09T19:06Z","v":2.4e-8},{"t":"2026-02-09T19:18Z","v":1.9e-8},{"t":"2026-02-09T19:25Z","v":4.2e-8},{"t":"2026-02-09T19:33Z","v":3.1e-8},{"t":"2026-02-09T19:41Z","v":3.0e-8},{"t":"2026-02-09T19:49Z","v":4.2e-8},{"t":"2026-02-09T19:57Z","v":3.6e-8},{"t":"2026-02-09T20:05Z","v":3.8e-8},{"t":"2026-02-09T20:16Z","v":2.6e-8},{"t":"2026-02-09T20:24Z","v":2.2e-8},{"t":"2026-02-09T20:32Z","v":2.7e-8},{"t":"2026-02-09T20:40Z","v":5.1e-8},{"t":"2026-02-09T20:48Z","v":3.3e-8},{"t":"2026-02-09T20:58Z","v":2.4e-8},{"t":"2026-02-09T21:07Z","v":2.2e-8},{"t":"2026-02-09T21:19Z","v":1.9e-8},{"t":"2026-02-09T21:31Z","v":2.2e-8},{"t":"2026-02-09T21:39Z","v":1.8e-8},{"t":"2026-02-09T21:46Z","v":2.3e-8},{"t":"2026-02-09T21:58Z","v":2.1e-8},{"t":"2026-02-09T22:08Z","v":1.5e-8},{"t":"2026-02-09T22:16Z","v":1.04e-8},{"t":"2026-02-09T22:22Z","v":1.4e-8},{"t":"2026-02-09T22:29Z","v":2.3e-8},{"t":"2026-02-09T22:37Z","v":1.0e-8},{"t":"2026-02-09T22:43Z","v":6.7e-9},{"t":"2026-02-09T22:49Z","v":7.3e-9},{"t":"2026-02-09T22:55Z","v":1.0e-8},{"t":"2026-02-09T22:59Z","v":1.5e-6},{"t":"2026-02-09T23:05Z","v":1.0e-7},{"t":"2026-02-09T23:13Z","v":5.1e-8},{"t":"2026-02-09T23:24Z","v":3.6e-8},{"t":"2026-02-09T23:36Z","v":2.3e-8},{"t":"2026-02-09T23:48Z","v":1.75e-8},{"t":"2026-02-09T23:53Z","v":7.9e-8},
{"t":"2026-02-10T00:00Z","v":1.17e-7},{"t":"2026-02-10T00:07Z","v":9.6e-8},{"t":"2026-02-10T00:15Z","v":5.9e-8},{"t":"2026-02-10T00:23Z","v":6.1e-8},{"t":"2026-02-10T00:31Z","v":1.17e-7},{"t":"2026-02-10T00:37Z","v":1.35e-7},{"t":"2026-02-10T00:43Z","v":1.08e-7},{"t":"2026-02-10T00:48Z","v":1.32e-7},{"t":"2026-02-10T00:58Z","v":7.9e-8},{"t":"2026-02-10T01:10Z","v":4.6e-8},{"t":"2026-02-10T01:22Z","v":3.85e-8},{"t":"2026-02-10T01:30Z","v":2.85e-8},{"t":"2026-02-10T01:37Z","v":2.4e-8},{"t":"2026-02-10T01:49Z","v":2.2e-8},{"t":"2026-02-10T02:01Z","v":2.4e-8},{"t":"2026-02-10T02:09Z","v":2.0e-8},{"t":"2026-02-10T02:21Z","v":2.2e-8},{"t":"2026-02-10T02:27Z","v":2.6e-8},{"t":"2026-02-10T02:32Z","v":1.85e-8},{"t":"2026-02-10T02:44Z","v":1.6e-8},{"t":"2026-02-10T02:56Z","v":1.65e-8},{"t":"2026-02-10T03:08Z","v":1.85e-8},{"t":"2026-02-10T03:23Z","v":2.1e-8},{"t":"2026-02-10T03:39Z","v":2.7e-8},{"t":"2026-02-10T03:50Z","v":3.8e-8},{"t":"2026-02-10T03:58Z","v":3.6e-8},{"t":"2026-02-10T04:04Z","v":5.6e-8},{"t":"2026-02-10T04:14Z","v":3.26e-8},{"t":"2026-02-10T04:26Z","v":2.04e-8},{"t":"2026-02-10T04:33Z","v":2.2e-8},{"t":"2026-02-10T04:41Z","v":3.1e-8},{"t":"2026-02-10T04:49Z","v":2.0e-8},{"t":"2026-02-10T04:57Z","v":1.9e-8},{"t":"2026-02-10T05:05Z","v":2.54e-8},{"t":"2026-02-10T05:10Z","v":2.4e-8},{"t":"2026-02-10T05:15Z","v":4.2e-8},{"t":"2026-02-10T05:23Z","v":3.1e-8},{"t":"2026-02-10T05:28Z","v":2.95e-8},{"t":"2026-02-10T05:34Z","v":7.9e-8},{"t":"2026-02-10T05:42Z","v":1.42e-7},{"t":"2026-02-10T05:48Z","v":1.29e-7},{"t":"2026-02-10T05:56Z","v":8.7e-8},{"t":"2026-02-10T06:06Z","v":5.3e-8},{"t":"2026-02-10T06:15Z","v":9.2e-8},{"t":"2026-02-10T06:23Z","v":9.6e-8},{"t":"2026-02-10T06:31Z","v":1.42e-7},{"t":"2026-02-10T06:39Z","v":2.15e-7},{"t":"2026-02-10T06:47Z","v":2.3e-7},{"t":"2026-02-10T06:54Z","v":1.9e-7},{"t":"2026-02-10T07:05Z","v":1.95e-7},{"t":"2026-02-10T07:14Z","v":1.17e-7},{"t":"2026-02-10T07:26Z","v":5.4e-8},{"t":"2026-02-10T07:38Z","v":2.95e-8},{"t":"2026-02-10T07:48Z","v":2.04e-8},{"t":"2026-02-10T07:55Z","v":5.9e-8},{"t":"2026-02-10T08:01Z","v":1.06e-7},{"t":"2026-02-10T08:07Z","v":1.92e-7},{"t":"2026-02-10T08:18Z","v":2.56e-7},{"t":"2026-02-10T08:26Z","v":2.1e-7},{"t":"2026-02-10T08:36Z","v":9.6e-8},{"t":"2026-02-10T08:44Z","v":6.8e-8},{"t":"2026-02-10T08:56Z","v":5.1e-8},{"t":"2026-02-10T09:08Z","v":3.76e-8},{"t":"2026-02-10T09:18Z","v":2.3e-8},{"t":"2026-02-10T09:26Z","v":1.8e-8},{"t":"2026-02-10T09:35Z","v":2.4e-8},{"t":"2026-02-10T09:51Z","v":2.73e-8},{"t":"2026-02-10T10:02Z","v":2.68e-8},{"t":"2026-02-10T10:14Z","v":2.4e-8},{"t":"2026-02-10T10:26Z","v":2.54e-8},{"t":"2026-02-10T10:36Z","v":2.2e-8},{"t":"2026-02-10T10:46Z","v":2.95e-8},{"t":"2026-02-10T10:57Z","v":7.5e-8},{"t":"2026-02-10T11:05Z","v":3.6e-8},{"t":"2026-02-10T11:13Z","v":2.95e-8},{"t":"2026-02-10T11:25Z","v":2.54e-8},{"t":"2026-02-10T11:33Z","v":1.8e-8},{"t":"2026-02-10T11:40Z","v":3.76e-8},{"t":"2026-02-10T11:48Z","v":2.2e-8},{"t":"2026-02-10T11:56Z","v":1.64e-8},{"t":"2026-02-10T12:04Z","v":9.1e-9},{"t":"2026-02-10T12:12Z","v":1.05e-8},{"t":"2026-02-10T12:20Z","v":2.3e-8},{"t":"2026-02-10T12:27Z","v":2.0e-8},{"t":"2026-02-10T12:34Z","v":2.2e-8},{"t":"2026-02-10T12:43Z","v":1.5e-8},{"t":"2026-02-10T12:51Z","v":1.72e-8},{"t":"2026-02-10T12:57Z","v":1.9e-8},{"t":"2026-02-10T13:05Z","v":2.45e-7},{"t":"2026-02-10T13:14Z","v":8.7e-8},{"t":"2026-02-10T13:26Z","v":2.4e-8},{"t":"2026-02-10T13:38Z","v":1.2e-8},{"t":"2026-02-10T13:46Z","v":7.8e-9},{"t":"2026-02-10T13:55Z","v":4.6e-8},{"t":"2026-02-10T14:01Z","v":2.95e-8},{"t":"2026-02-10T14:09Z","v":1.34e-8},{"t":"2026-02-10T14:13Z","v":8.2e-9},{"t":"2026-02-10T14:21Z","v":1.16e-8},{"t":"2026-02-10T14:29Z","v":1.1e-8},{"t":"2026-02-10T14:37Z","v":9.5e-9},{"t":"2026-02-10T14:44Z","v":1.1e-8},{"t":"2026-02-10T14:52Z","v":1.64e-8},{"t":"2026-02-10T15:00Z","v":1.28e-8},{"t":"2026-02-10T15:08Z","v":1.8e-8},{"t":"2026-02-10T15:16Z","v":1.28e-8},{"t":"2026-02-10T15:20Z","v":2.8e-8},{"t":"2026-02-10T15:27Z","v":1.22e-8},{"t":"2026-02-10T15:39Z","v":1.1e-8},{"t":"2026-02-10T15:45Z","v":9.5e-9},{"t":"2026-02-10T15:49Z","v":1.5e-8},{"t":"2026-02-10T15:53Z","v":5.75e-8},{"t":"2026-02-10T15:59Z","v":2.73e-8},{"t":"2026-02-10T16:07Z","v":2.3e-8},{"t":"2026-02-10T16:14Z","v":1.9e-8},{"t":"2026-02-10T16:22Z","v":1.5e-8},{"t":"2026-02-10T16:28Z","v":1.9e-8},{"t":"2026-02-10T16:34Z","v":2.95e-8},{"t":"2026-02-10T16:40Z","v":1.8e-8},{"t":"2026-02-10T16:46Z","v":2.2e-8},{"t":"2026-02-10T16:54Z","v":2.54e-8},{"t":"2026-02-10T17:01Z","v":2.0e-8},{"t":"2026-02-10T17:07Z","v":2.95e-8},{"t":"2026-02-10T17:15Z","v":4.05e-8},{"t":"2026-02-10T17:25Z","v":4.2e-8},{"t":"2026-02-10T17:37Z","v":3.76e-8},{"t":"2026-02-10T17:48Z","v":3.9e-8},{"t":"2026-02-10T18:00Z","v":3.1e-8},{"t":"2026-02-10T18:12Z","v":2.95e-8},{"t":"2026-02-10T18:24Z","v":3.1e-8},{"t":"2026-02-10T18:32Z","v":5.9e-8},{"t":"2026-02-10T18:41Z","v":1.17e-7},{"t":"2026-02-10T18:51Z","v":1.23e-7},{"t":"2026-02-10T19:01Z","v":1.42e-7},{"t":"2026-02-10T19:11Z","v":1.27e-7},{"t":"2026-02-10T19:22Z","v":9.6e-8},{"t":"2026-02-10T19:34Z","v":6.5e-8},{"t":"2026-02-10T19:46Z","v":5.3e-8},{"t":"2026-02-10T19:58Z","v":3.96e-8},{"t":"2026-02-10T20:09Z","v":2.68e-8},{"t":"2026-02-10T20:21Z","v":2.4e-8},{"t":"2026-02-10T20:33Z","v":1.72e-8},{"t":"2026-02-10T20:45Z","v":1.56e-8},{"t":"2026-02-10T20:56Z","v":1.05e-8},{"t":"2026-02-10T21:07Z","v":1.4e-8},{"t":"2026-02-10T21:16Z","v":1.56e-8},{"t":"2026-02-10T21:28Z","v":1.5e-8},{"t":"2026-02-10T21:39Z","v":1.34e-8},{"t":"2026-02-10T21:51Z","v":1.64e-8},{"t":"2026-02-10T21:59Z","v":1.1e-8},{"t":"2026-02-10T22:07Z","v":1.9e-8},{"t":"2026-02-10T22:15Z","v":1.05e-8},{"t":"2026-02-10T22:23Z","v":5.3e-9},{"t":"2026-02-10T22:30Z","v":1.34e-8},{"t":"2026-02-10T22:38Z","v":1.0e-8},{"t":"2026-02-10T22:46Z","v":1.8e-8},{"t":"2026-02-10T22:54Z","v":6.7e-9},{"t":"2026-02-10T23:02Z","v":7.8e-9},{"t":"2026-02-10T23:10Z","v":6.1e-9},{"t":"2026-02-10T23:17Z","v":1.64e-8},{"t":"2026-02-10T23:28Z","v":2.0e-8}
],
"g19s":[
{"t":"2026-02-08T00:00Z","v":2.4e-7},{"t":"2026-02-08T00:05Z","v":1.55e-7},{"t":"2026-02-08T00:13Z","v":1.35e-7},{"t":"2026-02-08T00:17Z","v":1.5e-7},{"t":"2026-02-08T00:25Z","v":1.1e-7},{"t":"2026-02-08T00:33Z","v":1.2e-7},{"t":"2026-02-08T00:41Z","v":9.0e-8},{"t":"2026-02-08T00:46Z","v":1.6e-7},{"t":"2026-02-08T00:52Z","v":9.0e-8},{"t":"2026-02-08T01:04Z","v":7.0e-8},{"t":"2026-02-08T01:12Z","v":9.0e-8},{"t":"2026-02-08T01:16Z","v":7.8e-8},{"t":"2026-02-08T01:21Z","v":1.1e-7},{"t":"2026-02-08T01:28Z","v":7.3e-8},{"t":"2026-02-08T01:36Z","v":5.2e-8},{"t":"2026-02-08T01:47Z","v":4.6e-8},{"t":"2026-02-08T01:55Z","v":4.8e-8},{"t":"2026-02-08T01:59Z","v":4.0e-8},{"t":"2026-02-08T02:11Z","v":3.5e-8},{"t":"2026-02-08T02:19Z","v":4.7e-8},{"t":"2026-02-08T02:30Z","v":3.4e-8},{"t":"2026-02-08T02:44Z","v":5.6e-8},{"t":"2026-02-08T02:50Z","v":3.4e-8},{"t":"2026-02-08T02:59Z","v":2.2e-8},{"t":"2026-02-08T03:06Z","v":1.7e-8},{"t":"2026-02-08T03:13Z","v":4.5e-8},{"t":"2026-02-08T03:21Z","v":2.9e-8},{"t":"2026-02-08T03:28Z","v":3.4e-8},{"t":"2026-02-08T03:33Z","v":2.7e-8},{"t":"2026-02-08T03:40Z","v":3.3e-8},{"t":"2026-02-08T03:45Z","v":2.8e-8},{"t":"2026-02-08T03:53Z","v":3.2e-8},{"t":"2026-02-08T04:00Z","v":2.6e-8},{"t":"2026-02-08T04:08Z","v":3.3e-8},{"t":"2026-02-08T04:15Z","v":2.8e-8},{"t":"2026-02-08T04:21Z","v":3.5e-8},{"t":"2026-02-08T04:28Z","v":8.0e-8},{"t":"2026-02-08T04:36Z","v":1.3e-7},{"t":"2026-02-08T04:49Z","v":1.3e-7},{"t":"2026-02-08T04:52Z","v":4.4e-7},{"t":"2026-02-08T04:58Z","v":1.1e-7},{"t":"2026-02-08T05:07Z","v":1.3e-7},{"t":"2026-02-08T05:23Z","v":1.6e-7},{"t":"2026-02-08T05:42Z","v":1.5e-7},{"t":"2026-02-08T05:56Z","v":2.6e-7},{"t":"2026-02-08T06:14Z","v":2.1e-7},{"t":"2026-02-08T06:29Z","v":1.45e-7},{"t":"2026-02-08T06:45Z","v":1.15e-7},{"t":"2026-02-08T06:53Z","v":1.15e-7},{"t":"2026-02-08T07:05Z","v":1.0e-7},{"t":"2026-02-08T07:20Z","v":6.6e-8},{"t":"2026-02-08T07:30Z","v":5.8e-8},{"t":"2026-02-08T07:34Z","v":2.8e-7},{"t":"2026-02-08T07:44Z","v":6.2e-7},{"t":"2026-02-08T07:52Z","v":3.6e-7},{"t":"2026-02-08T07:59Z","v":1.8e-7},{"t":"2026-02-08T08:07Z","v":1.65e-7},{"t":"2026-02-08T08:19Z","v":1.45e-7},{"t":"2026-02-08T08:31Z","v":8.5e-8},{"t":"2026-02-08T08:42Z","v":7.2e-8},{"t":"2026-02-08T08:58Z","v":4.4e-8},{"t":"2026-02-08T09:14Z","v":3.2e-8},{"t":"2026-02-08T09:22Z","v":3.4e-8},{"t":"2026-02-08T09:33Z","v":7.3e-8},{"t":"2026-02-08T09:45Z","v":6.3e-8},{"t":"2026-02-08T10:01Z","v":7.0e-8},{"t":"2026-02-08T10:13Z","v":6.6e-8},{"t":"2026-02-08T10:20Z","v":9.0e-8},{"t":"2026-02-08T10:32Z","v":7.0e-8},{"t":"2026-02-08T10:40Z","v":7.8e-8},{"t":"2026-02-08T10:45Z","v":7.4e-8},{"t":"2026-02-08T10:50Z","v":1.6e-7},{"t":"2026-02-08T10:55Z","v":1.22e-7},{"t":"2026-02-08T11:03Z","v":1.1e-7},{"t":"2026-02-08T11:11Z","v":8.6e-8},{"t":"2026-02-08T11:15Z","v":4.3e-6},{"t":"2026-02-08T11:19Z","v":7.2e-7},{"t":"2026-02-08T11:27Z","v":2.45e-7},{"t":"2026-02-08T11:32Z","v":3.7e-7},{"t":"2026-02-08T11:35Z","v":3.75e-7},{"t":"2026-02-08T11:41Z","v":2.7e-6},{"t":"2026-02-08T11:48Z","v":1.9e-6},{"t":"2026-02-08T11:58Z","v":1.2e-6},{"t":"2026-02-08T12:10Z","v":7.3e-7},{"t":"2026-02-08T12:26Z","v":4.4e-7},{"t":"2026-02-08T12:33Z","v":3.4e-7},{"t":"2026-02-08T12:45Z","v":2.3e-7},{"t":"2026-02-08T12:57Z","v":1.55e-7},{"t":"2026-02-08T13:09Z","v":1.6e-7},{"t":"2026-02-08T13:16Z","v":1.15e-7},{"t":"2026-02-08T13:28Z","v":7.2e-8},{"t":"2026-02-08T13:32Z","v":1.45e-7},{"t":"2026-02-08T13:36Z","v":6.2e-8},{"t":"2026-02-08T13:42Z","v":5.1e-8},{"t":"2026-02-08T13:46Z","v":6.8e-8},{"t":"2026-02-08T13:49Z","v":5.5e-6},{"t":"2026-02-08T13:56Z","v":1.8e-6},{"t":"2026-02-08T14:03Z","v":7.2e-7},{"t":"2026-02-08T14:15Z","v":3.6e-7},{"t":"2026-02-08T14:27Z","v":3.0e-7},{"t":"2026-02-08T14:39Z","v":2.1e-7},{"t":"2026-02-08T14:50Z","v":1.7e-7},{"t":"2026-02-08T14:58Z","v":1.8e-7},{"t":"2026-02-08T15:02Z","v":1.6e-7},{"t":"2026-02-08T15:08Z","v":1.2e-7},{"t":"2026-02-08T15:14Z","v":1.3e-7},{"t":"2026-02-08T15:18Z","v":4.4e-7},{"t":"2026-02-08T15:22Z","v":1.3e-7},{"t":"2026-02-08T15:26Z","v":2.7e-7},{"t":"2026-02-08T15:30Z","v":1.0e-7},{"t":"2026-02-08T15:34Z","v":2.0e-7},{"t":"2026-02-08T15:40Z","v":8.3e-8},{"t":"2026-02-08T15:48Z","v":1.3e-7},{"t":"2026-02-08T15:57Z","v":2.8e-7},{"t":"2026-02-08T16:05Z","v":1.9e-7},{"t":"2026-02-08T16:13Z","v":1.3e-7},{"t":"2026-02-08T16:24Z","v":1.0e-7},{"t":"2026-02-08T16:36Z","v":8.5e-8},{"t":"2026-02-08T16:44Z","v":7.3e-8},{"t":"2026-02-08T16:56Z","v":5.1e-8},{"t":"2026-02-08T17:01Z","v":1.4e-7},{"t":"2026-02-08T17:11Z","v":1.1e-7},{"t":"2026-02-08T17:19Z","v":4.4e-7},{"t":"2026-02-08T17:27Z","v":6.0e-7},{"t":"2026-02-08T17:35Z","v":7.3e-7},{"t":"2026-02-08T17:43Z","v":4.2e-7},{"t":"2026-02-08T17:55Z","v":2.45e-7},{"t":"2026-02-08T18:10Z","v":2.05e-7},{"t":"2026-02-08T18:27Z","v":1.75e-7},{"t":"2026-02-08T18:48Z","v":1.55e-7},{"t":"2026-02-08T18:56Z","v":2.6e-7},{"t":"2026-02-08T19:05Z","v":2.0e-7},{"t":"2026-02-08T19:17Z","v":1.3e-7},{"t":"2026-02-08T19:29Z","v":9.4e-8},{"t":"2026-02-08T19:44Z","v":9.4e-8},{"t":"2026-02-08T19:56Z","v":1.05e-7},{"t":"2026-02-08T20:08Z","v":8.5e-8},{"t":"2026-02-08T20:23Z","v":7.0e-8},{"t":"2026-02-08T20:39Z","v":5.0e-8},{"t":"2026-02-08T20:51Z","v":4.4e-8},{"t":"2026-02-08T20:58Z","v":4.6e-8},{"t":"2026-02-08T21:10Z","v":4.3e-8},{"t":"2026-02-08T21:18Z","v":4.6e-8},{"t":"2026-02-08T21:26Z","v":4.6e-8},{"t":"2026-02-08T21:34Z","v":3.8e-8},{"t":"2026-02-08T21:45Z","v":3.3e-8},{"t":"2026-02-08T21:53Z","v":3.8e-8},{"t":"2026-02-08T22:01Z","v":3.0e-8},{"t":"2026-02-08T22:09Z","v":4.6e-8},{"t":"2026-02-08T22:15Z","v":4.0e-8},{"t":"2026-02-08T22:25Z","v":4.2e-8},{"t":"2026-02-08T22:36Z","v":4.6e-8},{"t":"2026-02-08T22:44Z","v":5.0e-8},{"t":"2026-02-08T22:54Z","v":1.2e-7},{"t":"2026-02-08T23:02Z","v":9.0e-8},{"t":"2026-02-08T23:14Z","v":5.0e-8},{"t":"2026-02-08T23:19Z","v":8.0e-8},{"t":"2026-02-08T23:26Z","v":1.1e-7},{"t":"2026-02-08T23:31Z","v":7.5e-8},{"t":"2026-02-08T23:35Z","v":2.1e-7},{"t":"2026-02-08T23:39Z","v":6.4e-7},{"t":"2026-02-08T23:45Z","v":5.9e-7},{"t":"2026-02-08T23:51Z","v":7.5e-7},{"t":"2026-02-08T23:59Z","v":5.0e-7},
{"t":"2026-02-09T00:06Z","v":2.6e-7},{"t":"2026-02-09T00:11Z","v":7.0e-7},{"t":"2026-02-09T00:18Z","v":2.0e-7},{"t":"2026-02-09T00:30Z","v":1.0e-7},{"t":"2026-02-09T00:42Z","v":7.2e-8},{"t":"2026-02-09T00:53Z","v":5.3e-8},{"t":"2026-02-09T01:05Z","v":5.0e-8},{"t":"2026-02-09T01:13Z","v":5.6e-8},{"t":"2026-02-09T01:25Z","v":4.0e-8},{"t":"2026-02-09T01:33Z","v":3.5e-8},{"t":"2026-02-09T01:39Z","v":5.6e-8},{"t":"2026-02-09T01:44Z","v":1.6e-7},{"t":"2026-02-09T01:50Z","v":1.4e-7},{"t":"2026-02-09T01:56Z","v":3.5e-7},{"t":"2026-02-09T02:02Z","v":1.1e-7},{"t":"2026-02-09T02:12Z","v":9.0e-8},{"t":"2026-02-09T02:18Z","v":9.6e-8},{"t":"2026-02-09T02:22Z","v":5.3e-6},{"t":"2026-02-09T02:31Z","v":2.6e-6},{"t":"2026-02-09T02:43Z","v":1.7e-6},{"t":"2026-02-09T02:55Z","v":1.1e-6},{"t":"2026-02-09T03:07Z","v":5.0e-7},{"t":"2026-02-09T03:18Z","v":2.8e-7},{"t":"2026-02-09T03:30Z","v":1.55e-7},{"t":"2026-02-09T03:42Z","v":9.0e-8},{"t":"2026-02-09T03:54Z","v":7.3e-8},{"t":"2026-02-09T04:05Z","v":6.8e-8},{"t":"2026-02-09T04:17Z","v":6.8e-8},{"t":"2026-02-09T04:25Z","v":7.3e-8},{"t":"2026-02-09T04:30Z","v":1.2e-7},{"t":"2026-02-09T04:37Z","v":9.0e-8},{"t":"2026-02-09T04:48Z","v":7.4e-8},{"t":"2026-02-09T05:04Z","v":6.8e-8},{"t":"2026-02-09T05:14Z","v":6.4e-8},{"t":"2026-02-09T05:18Z","v":1.28e-7},{"t":"2026-02-09T05:35Z","v":1.28e-7},{"t":"2026-02-09T05:51Z","v":1.15e-7},{"t":"2026-02-09T06:07Z","v":1.15e-7},{"t":"2026-02-09T06:22Z","v":1.12e-7},{"t":"2026-02-09T06:38Z","v":1.32e-7},{"t":"2026-02-09T06:50Z","v":1.95e-7},{"t":"2026-02-09T06:58Z","v":1.85e-7},{"t":"2026-02-09T07:06Z","v":1.38e-7},{"t":"2026-02-09T07:17Z","v":1.2e-7},{"t":"2026-02-09T07:29Z","v":1.14e-7},{"t":"2026-02-09T07:38Z","v":9.6e-8},{"t":"2026-02-09T07:44Z","v":2.05e-7},{"t":"2026-02-09T07:51Z","v":1.75e-7},{"t":"2026-02-09T07:56Z","v":1.85e-7},{"t":"2026-02-09T08:04Z","v":1.75e-7},{"t":"2026-02-09T08:13Z","v":7.8e-7},{"t":"2026-02-09T08:20Z","v":5.5e-7},{"t":"2026-02-09T08:28Z","v":3.4e-7},{"t":"2026-02-09T08:33Z","v":3.9e-7},{"t":"2026-02-09T08:39Z","v":4.4e-7},{"t":"2026-02-09T08:47Z","v":1.4e-7},{"t":"2026-02-09T08:55Z","v":1.05e-7},{"t":"2026-02-09T09:07Z","v":9.0e-8},{"t":"2026-02-09T09:18Z","v":8.6e-8},{"t":"2026-02-09T09:34Z","v":8.3e-8},{"t":"2026-02-09T09:46Z","v":7.2e-8},{"t":"2026-02-09T09:50Z","v":9.0e-8},{"t":"2026-02-09T10:02Z","v":1.0e-7},{"t":"2026-02-09T10:13Z","v":1.22e-7},{"t":"2026-02-09T10:29Z","v":1.38e-7},{"t":"2026-02-09T10:41Z","v":1.2e-7},{"t":"2026-02-09T10:56Z","v":1.0e-7},{"t":"2026-02-09T11:08Z","v":8.8e-8},{"t":"2026-02-09T11:16Z","v":9.8e-8},{"t":"2026-02-09T11:28Z","v":8.6e-8},{"t":"2026-02-09T11:33Z","v":1.55e-7},{"t":"2026-02-09T11:43Z","v":9.0e-8},{"t":"2026-02-09T11:55Z","v":7.1e-8},{"t":"2026-02-09T12:07Z","v":5.0e-8},{"t":"2026-02-09T12:19Z","v":4.0e-8},{"t":"2026-02-09T12:30Z","v":3.9e-8},{"t":"2026-02-09T12:42Z","v":2.95e-8},{"t":"2026-02-09T12:58Z","v":2.8e-8},{"t":"2026-02-09T13:13Z","v":2.3e-8},{"t":"2026-02-09T13:21Z","v":1.9e-8},{"t":"2026-02-09T13:29Z","v":2.6e-8},{"t":"2026-02-09T13:37Z","v":3.0e-8},{"t":"2026-02-09T13:42Z","v":2.5e-7},{"t":"2026-02-09T13:47Z","v":2.9e-7},{"t":"2026-02-09T13:53Z","v":1.15e-7},{"t":"2026-02-09T13:59Z","v":5.7e-8},{"t":"2026-02-09T14:08Z","v":3.8e-8},{"t":"2026-02-09T14:20Z","v":3.0e-8},{"t":"2026-02-09T14:28Z","v":6.8e-8},{"t":"2026-02-09T14:36Z","v":2.4e-8},{"t":"2026-02-09T14:51Z","v":1.28e-8},{"t":"2026-02-09T15:00Z","v":1.4e-8},{"t":"2026-02-09T15:09Z","v":1.24e-8},{"t":"2026-02-09T15:13Z","v":1.3e-8},{"t":"2026-02-09T15:17Z","v":2.35e-7},{"t":"2026-02-09T15:27Z","v":7.9e-8},{"t":"2026-02-09T15:38Z","v":4.4e-8},{"t":"2026-02-09T15:50Z","v":2.8e-8},{"t":"2026-02-09T16:00Z","v":2.2e-8},{"t":"2026-02-09T16:14Z","v":1.64e-8},{"t":"2026-02-09T16:25Z","v":9.1e-9},{"t":"2026-02-09T16:35Z","v":5.0e-9},{"t":"2026-02-09T16:41Z","v":8.2e-9},{"t":"2026-02-09T16:49Z","v":1.4e-8},{"t":"2026-02-09T17:01Z","v":1.45e-8},{"t":"2026-02-09T17:08Z","v":6.7e-9},{"t":"2026-02-09T17:16Z","v":9.1e-9},{"t":"2026-02-09T17:28Z","v":1.1e-8},{"t":"2026-02-09T17:32Z","v":6.1e-9},{"t":"2026-02-09T17:36Z","v":5.0e-10},{"t":"2026-02-09T17:40Z","v":6.1e-9},{"t":"2026-02-09T17:45Z","v":1.05e-8},{"t":"2026-02-09T17:55Z","v":1.1e-8},{"t":"2026-02-09T18:01Z","v":7.0e-9},{"t":"2026-02-09T18:05Z","v":1.75e-7},{"t":"2026-02-09T18:16Z","v":1.9e-7},{"t":"2026-02-09T18:23Z","v":7.9e-8},{"t":"2026-02-09T18:34Z","v":4.2e-8},{"t":"2026-02-09T18:42Z","v":1.64e-8},{"t":"2026-02-09T18:54Z","v":2.0e-8},{"t":"2026-02-09T19:06Z","v":1.1e-8},{"t":"2026-02-09T19:18Z","v":8.6e-9},{"t":"2026-02-09T19:25Z","v":3.6e-8},{"t":"2026-02-09T19:37Z","v":2.2e-8},{"t":"2026-02-09T19:49Z","v":3.26e-8},{"t":"2026-02-09T20:05Z","v":1.8e-8},{"t":"2026-02-09T20:16Z","v":1.34e-8},{"t":"2026-02-09T20:22Z","v":1.05e-8},{"t":"2026-02-09T20:32Z","v":1.8e-8},{"t":"2026-02-09T20:40Z","v":4.4e-8},{"t":"2026-02-09T20:52Z","v":2.7e-8},{"t":"2026-02-09T21:07Z","v":2.0e-8},{"t":"2026-02-09T21:23Z","v":2.2e-8},{"t":"2026-02-09T21:39Z","v":1.9e-8},{"t":"2026-02-09T21:50Z","v":2.54e-8},{"t":"2026-02-09T22:02Z","v":1.5e-8},{"t":"2026-02-09T22:14Z","v":1.5e-8},{"t":"2026-02-09T22:26Z","v":1.64e-8},{"t":"2026-02-09T22:37Z","v":9.1e-9},{"t":"2026-02-09T22:43Z","v":8.2e-9},{"t":"2026-02-09T22:55Z","v":9.5e-9},{"t":"2026-02-09T22:59Z","v":1.45e-6},{"t":"2026-02-09T23:05Z","v":1.0e-7},{"t":"2026-02-09T23:13Z","v":4.4e-8},{"t":"2026-02-09T23:28Z","v":2.95e-8},{"t":"2026-02-09T23:40Z","v":2.0e-8},{"t":"2026-02-09T23:48Z","v":1.8e-8},{"t":"2026-02-09T23:56Z","v":1.12e-7},
{"t":"2026-02-10T00:00Z","v":1.1e-7},{"t":"2026-02-10T00:07Z","v":9.6e-8},{"t":"2026-02-10T00:15Z","v":5.6e-8},{"t":"2026-02-10T00:23Z","v":5.8e-8},{"t":"2026-02-10T00:31Z","v":1.1e-7},{"t":"2026-02-10T00:37Z","v":1.3e-7},{"t":"2026-02-10T00:43Z","v":1.05e-7},{"t":"2026-02-10T00:48Z","v":1.25e-7},{"t":"2026-02-10T00:58Z","v":7.6e-8},{"t":"2026-02-10T01:10Z","v":4.4e-8},{"t":"2026-02-10T01:18Z","v":3.8e-8},{"t":"2026-02-10T01:30Z","v":2.0e-8},{"t":"2026-02-10T01:41Z","v":1.64e-8},{"t":"2026-02-10T01:57Z","v":1.8e-8},{"t":"2026-02-10T02:12Z","v":1.05e-8},{"t":"2026-02-10T02:24Z","v":1.34e-8},{"t":"2026-02-10T02:36Z","v":1.1e-8},{"t":"2026-02-10T02:46Z","v":6.7e-9},{"t":"2026-02-10T02:56Z","v":1.34e-8},{"t":"2026-02-10T03:08Z","v":9.5e-9},{"t":"2026-02-10T03:19Z","v":1.22e-8},{"t":"2026-02-10T03:31Z","v":1.4e-8},{"t":"2026-02-10T03:43Z","v":1.72e-8},{"t":"2026-02-10T03:51Z","v":2.95e-8},{"t":"2026-02-10T04:04Z","v":4.8e-8},{"t":"2026-02-10T04:14Z","v":2.4e-8},{"t":"2026-02-10T04:26Z","v":1.34e-8},{"t":"2026-02-10T04:37Z","v":1.9e-8},{"t":"2026-02-10T04:45Z","v":1.64e-8},{"t":"2026-02-10T04:51Z","v":9.5e-9},{"t":"2026-02-10T05:01Z","v":1.34e-8},{"t":"2026-02-10T05:09Z","v":2.08e-8},{"t":"2026-02-10T05:15Z","v":3.26e-8},{"t":"2026-02-10T05:23Z","v":2.2e-8},{"t":"2026-02-10T05:28Z","v":1.72e-8},{"t":"2026-02-10T05:34Z","v":6.5e-8},{"t":"2026-02-10T05:42Z","v":1.36e-7},{"t":"2026-02-10T05:48Z","v":1.23e-7},{"t":"2026-02-10T05:56Z","v":7.9e-8},{"t":"2026-02-10T06:06Z","v":4.4e-8},{"t":"2026-02-10T06:15Z","v":8.7e-8},{"t":"2026-02-10T06:23Z","v":8.7e-8},{"t":"2026-02-10T06:31Z","v":1.36e-7},{"t":"2026-02-10T06:39Z","v":2.1e-7},{"t":"2026-02-10T06:47Z","v":2.2e-7},{"t":"2026-02-10T06:54Z","v":1.8e-7},{"t":"2026-02-10T07:05Z","v":1.9e-7},{"t":"2026-02-10T07:14Z","v":1.06e-7},{"t":"2026-02-10T07:26Z","v":5.1e-8},{"t":"2026-02-10T07:38Z","v":2.7e-8},{"t":"2026-02-10T07:48Z","v":2.08e-8},{"t":"2026-02-10T07:55Z","v":5.9e-8},{"t":"2026-02-10T08:01Z","v":1.0e-7},{"t":"2026-02-10T08:07Z","v":1.85e-7},{"t":"2026-02-10T08:18Z","v":2.45e-7},{"t":"2026-02-10T08:26Z","v":2.0e-7},{"t":"2026-02-10T08:36Z","v":9.0e-8},{"t":"2026-02-10T08:44Z","v":6.4e-8},{"t":"2026-02-10T08:56Z","v":4.8e-8},{"t":"2026-02-10T09:08Z","v":3.6e-8},{"t":"2026-02-10T09:18Z","v":2.3e-8},{"t":"2026-02-10T09:26Z","v":1.9e-8},{"t":"2026-02-10T09:35Z","v":2.6e-8},{"t":"2026-02-10T09:51Z","v":2.95e-8},{"t":"2026-02-10T10:02Z","v":3.0e-8},{"t":"2026-02-10T10:14Z","v":2.8e-8},{"t":"2026-02-10T10:26Z","v":2.9e-8},{"t":"2026-02-10T10:36Z","v":2.5e-8},{"t":"2026-02-10T10:46Z","v":3.0e-8},{"t":"2026-02-10T10:57Z","v":7.3e-8},{"t":"2026-02-10T11:05Z","v":3.8e-8},{"t":"2026-02-10T11:13Z","v":3.1e-8},{"t":"2026-02-10T11:25Z","v":2.6e-8},{"t":"2026-02-10T11:33Z","v":2.0e-8},{"t":"2026-02-10T11:40Z","v":3.6e-8},{"t":"2026-02-10T11:48Z","v":2.3e-8},{"t":"2026-02-10T11:56Z","v":2.2e-8},{"t":"2026-02-10T12:04Z","v":1.8e-8},{"t":"2026-02-10T12:12Z","v":2.0e-8},{"t":"2026-02-10T12:20Z","v":3.5e-8},{"t":"2026-02-10T12:27Z","v":3.0e-8},{"t":"2026-02-10T12:34Z","v":3.5e-8},{"t":"2026-02-10T12:43Z","v":2.7e-8},{"t":"2026-02-10T12:51Z","v":2.6e-8},{"t":"2026-02-10T12:57Z","v":2.5e-8},{"t":"2026-02-10T13:05Z","v":2.4e-7},{"t":"2026-02-10T13:14Z","v":8.7e-8},{"t":"2026-02-10T13:26Z","v":3.0e-8},{"t":"2026-02-10T13:38Z","v":2.0e-8},{"t":"2026-02-10T13:46Z","v":1.8e-8},{"t":"2026-02-10T13:55Z","v":5.0e-8},{"t":"2026-02-10T14:01Z","v":3.3e-8},{"t":"2026-02-10T14:09Z","v":2.0e-8},{"t":"2026-02-10T14:13Z","v":1.64e-8},{"t":"2026-02-10T14:21Z","v":2.2e-8},{"t":"2026-02-10T14:29Z","v":1.5e-8},{"t":"2026-02-10T14:37Z","v":2.3e-8},{"t":"2026-02-10T14:44Z","v":1.9e-8},{"t":"2026-02-10T14:52Z","v":2.4e-8},{"t":"2026-02-10T15:00Z","v":1.72e-8},{"t":"2026-02-10T15:08Z","v":2.5e-8},{"t":"2026-02-10T15:16Z","v":2.2e-8},{"t":"2026-02-10T15:20Z","v":2.8e-8},{"t":"2026-02-10T15:27Z","v":1.34e-8},{"t":"2026-02-10T15:39Z","v":1.2e-8},{"t":"2026-02-10T15:49Z","v":1.5e-8},{"t":"2026-02-10T15:53Z","v":5.75e-8},{"t":"2026-02-10T16:03Z","v":2.95e-8},{"t":"2026-02-10T16:14Z","v":2.4e-8},{"t":"2026-02-10T16:22Z","v":1.64e-8},{"t":"2026-02-10T16:34Z","v":2.8e-8},{"t":"2026-02-10T16:46Z","v":2.0e-8},{"t":"2026-02-10T16:59Z","v":1.1e-8},{"t":"2026-02-10T17:09Z","v":3.26e-8},{"t":"2026-02-10T17:25Z","v":3.6e-8},{"t":"2026-02-10T17:37Z","v":3.4e-8},{"t":"2026-02-10T17:52Z","v":3.26e-8},{"t":"2026-02-10T18:08Z","v":2.54e-8},{"t":"2026-02-10T18:24Z","v":2.4e-8},{"t":"2026-02-10T18:32Z","v":5.5e-8},{"t":"2026-02-10T18:39Z","v":1.06e-7},{"t":"2026-02-10T18:59Z","v":1.32e-7},{"t":"2026-02-10T19:11Z","v":1.2e-7},{"t":"2026-02-10T19:26Z","v":7.9e-8},{"t":"2026-02-10T19:46Z","v":4.4e-8},{"t":"2026-02-10T19:58Z","v":3.4e-8},{"t":"2026-02-10T20:09Z","v":2.6e-8},{"t":"2026-02-10T20:21Z","v":2.2e-8},{"t":"2026-02-10T20:33Z","v":1.8e-8},{"t":"2026-02-10T20:45Z","v":1.64e-8},{"t":"2026-02-10T21:00Z","v":1.64e-8},{"t":"2026-02-10T21:08Z","v":2.2e-8},{"t":"2026-02-10T21:16Z","v":2.4e-8},{"t":"2026-02-10T21:24Z","v":2.1e-8},{"t":"2026-02-10T21:32Z","v":2.7e-8},{"t":"2026-02-10T21:40Z","v":2.4e-8},{"t":"2026-02-10T21:47Z","v":3.1e-8},{"t":"2026-02-10T21:55Z","v":2.6e-8},{"t":"2026-02-10T22:03Z","v":2.95e-8},{"t":"2026-02-10T22:10Z","v":2.5e-8},{"t":"2026-02-10T22:15Z","v":3.4e-8},{"t":"2026-02-10T22:23Z","v":2.4e-8},{"t":"2026-02-10T22:30Z","v":2.9e-8},{"t":"2026-02-10T22:34Z","v":2.2e-8},{"t":"2026-02-10T22:42Z","v":2.8e-8},{"t":"2026-02-10T22:50Z","v":2.95e-8},{"t":"2026-02-10T22:58Z","v":2.3e-8},{"t":"2026-02-10T23:06Z","v":2.0e-8},{"t":"2026-02-10T23:12Z","v":2.6e-8},{"t":"2026-02-10T23:17Z","v":2.7e-8},{"t":"2026-02-10T23:22Z","v":2.4e-8},{"t":"2026-02-10T23:28Z","v":3.26e-8}
]
},
"layer":[
{"data":{"name":"g18l"},"mark":{"type":"line","strokeWidth":1.7,"clip":true},
"encoding":{
"x":{"field":"t","type":"temporal","scale":{"type":"utc","domain":[{"year":2026,"month":2,"date":8,"utc":true},{"year":2026,"month":2,"date":11,"utc":true}],"nice":false},
"axis":{"title":"Time (UTC)","values":[{"year":2026,"month":2,"date":8,"hours":0,"utc":true},{"year":2026,"month":2,"date":8,"hours":8,"utc":true},{"year":2026,"month":2,"date":8,"hours":16,"utc":true},{"year":2026,"month":2,"date":9,"hours":0,"utc":true},{"year":2026,"month":2,"date":9,"hours":8,"utc":true},{"year":2026,"month":2,"date":9,"hours":16,"utc":true},{"year":2026,"month":2,"date":10,"hours":0,"utc":true},{"year":2026,"month":2,"date":10,"hours":8,"utc":true},{"year":2026,"month":2,"date":10,"hours":16,"utc":true},{"year":2026,"month":2,"date":11,"hours":0,"utc":true}],
"labelExpr":"utchours(datum.value) == 0 ? [utcFormat(datum.value, '%H:%M'), utcFormat(datum.value, '%b %d')] : utcFormat(datum.value, '%H:%M')",
"tickSize":-8,"labelPadding":13,"labelFlush":false,"labelOverlap":false,"grid":false,"labelLineHeight":23,"labelBaseline":"top","titleY":63,"titleBaseline":"middle"}},
"y":{"field":"v","type":"quantitative","scale":{"type":"log","domain":[1e-9,1e-2],"nice":false},
"axis":{"orient":"left","title":"Flux (Watts · m⁻²)","values":[1e-8,1e-7,1e-6,1e-5,1e-4,1e-3],"labelExpr":"'10⁻' + ['0','1','2','³','⁴','⁵','⁶','⁷','⁸','⁹'][round(-log(datum.value)/LN10)]","grid":true,"gridColor":"#b0b0b0","gridWidth":1,"tickSize":-10,"labelPadding":17,"titleX":-78,"titleY":273,"titleAngle":-90,"titleBaseline":"middle","titleAlign":"center"}},
"color":{"datum":"GOES-19 1.0-8.0Å","type":"nominal","scale":{"domain":["GOES-19 1.0-8.0Å","GOES-19 0.5-4.0Å","GOES-18 1.0-8.0Å","GOES-18 0.5-4.0Å"],"range":["#ffc800","#00ffff","#ff0000","#0000ff"]},
"legend":{"orient":"none","legendX":736,"legendY":7,"columns":2,"direction":"horizontal","title":null,"symbolType":"stroke","symbolSize":780,"symbolStrokeWidth":1.5,"labelFontSize":14,"labelFont":"DejaVu Sans","labelColor":"black","strokeColor":"#cccccc","fillColor":"white","padding":5,"cornerRadius":3,"columnPadding":20,"rowPadding":0,"labelOffset":12}}
}},
{"data":{"name":"g19s"},"mark":{"type":"line","strokeWidth":1.7,"clip":true},
"encoding":{
"x":{"field":"t","type":"temporal"},
"y":{"field":"v","type":"quantitative","axis":{"orient":"left","values":[2e-9,3e-9,4e-9,5e-9,6e-9,7e-9,8e-9,9e-9,2e-8,3e-8,4e-8,5e-8,6e-8,7e-8,8e-8,9e-8,2e-7,3e-7,4e-7,5e-7,6e-7,7e-7,8e-7,9e-7,2e-6,3e-6,4e-6,5e-6,6e-6,7e-6,8e-6,9e-6,2e-5,3e-5,4e-5,5e-5,6e-5,7e-5,8e-5,9e-5,2e-4,3e-4,4e-4,5e-4,6e-4,7e-4,8e-4,9e-4,2e-3,3e-3,4e-3,5e-3,6e-3,7e-3,8e-3,9e-3],"labels":false,"grid":false,"domain":false,"tickSize":-6,"title":null}},
"color":{"datum":"GOES-19 0.5-4.0Å","type":"nominal"}
}},
{"data":{"name":"g18l"},"mark":{"type":"line","strokeWidth":1.7,"clip":true},
"encoding":{
"x":{"field":"t","type":"temporal"},
"y":{"field":"v","type":"quantitative","axis":{"orient":"right","values":[3.1623e-4,3.1623e-5,3.1623e-6,3.1623e-7,3.1623e-8],"labelExpr":"['X','M','C','B','A'][round(-log(datum.value)/LN10 - 3.5)]","grid":false,"tickSize":-10,"labelPadding":16,"title":"GOES Class","titleX":35,"titleY":273,"titleAngle":-90,"titleBaseline":"middle","titleAlign":"center"}},
"color":{"datum":"GOES-18 1.0-8.0Å","type":"nominal"}
}},
{"data":{"name":"g18s"},"mark":{"type":"line","strokeWidth":1.7,"clip":true},
"encoding":{
"x":{"field":"t","type":"temporal"},
"y":{"field":"v","type":"quantitative","axis":{"orient":"right","values":[2e-9,3e-9,4e-9,5e-9,6e-9,7e-9,8e-9,9e-9,2e-8,3e-8,4e-8,5e-8,6e-8,7e-8,8e-8,9e-8,2e-7,3e-7,4e-7,5e-7,6e-7,7e-7,8e-7,9e-7,2e-6,3e-6,4e-6,5e-6,6e-6,7e-6,8e-6,9e-6,2e-5,3e-5,4e-5,5e-5,6e-5,7e-5,8e-5,9e-5,2e-4,3e-4,4e-4,5e-4,6e-4,7e-4,8e-4,9e-4,2e-3,3e-3,4e-3,5e-3,6e-3,7e-3,8e-3,9e-3],"labels":false,"grid":false,"domain":false,"tickSize":-6,"title":null}},
"color":{"datum":"GOES-18 0.5-4.0Å","type":"nominal"}
}},
{"data":{"values":[{"t":"2026-02-09T00:00Z"},{"t":"2026-02-10T00:00Z"}]},"mark":{"type":"rule","color":"black","strokeWidth":1.2},
"encoding":{"x":{"field":"t","type":"temporal"}}},
{"data":{"values":[{"t":"2026-02-10T23:06Z","v":1.7e-9,"label":"SolarMonitor.org : 11-Feb-2026 00:30 UTC"}]},
"mark":{"type":"text","align":"right","baseline":"middle","fontSize":15,"font":"DejaVu Sans","color":"black"},
"encoding":{"x":{"field":"t","type":"temporal"},"y":{"field":"v","type":"quantitative","axis":null},"text":{"field":"label"}}}
],
"resolve":{"axis":{"y":"independent"}}
}
